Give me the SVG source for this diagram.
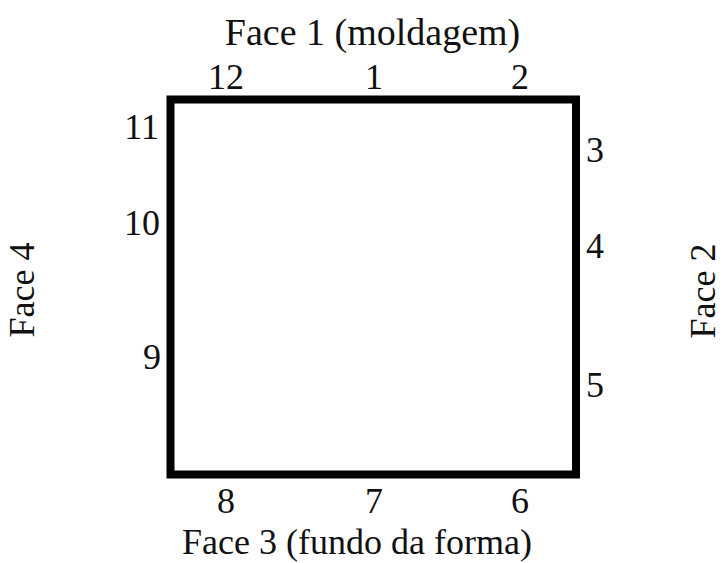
<svg xmlns="http://www.w3.org/2000/svg" width="726" height="563" viewBox="0 0 726 563">
<style>
text { font-family: "Liberation Serif", "Times New Roman", serif; font-size: 36px; fill: #111; }
.m { text-anchor: middle; }
.e { text-anchor: end; }
.box { fill: none; stroke: #000; stroke-width: 8; }
</style>
<rect width="726" height="563" fill="#fff"/>
<g id="section">
<rect class="box" x="170.5" y="99.5" width="405.5" height="375"/>
</g>
<g id="face1">
<text class="m" x="372.5" y="45" style="font-size:38px">Face 1 (moldagem)</text>
<text class="m" x="226" y="89">12</text>
<text class="m" x="374" y="89">1</text>
<text class="m" x="520" y="89">2</text>
</g>
<g id="face2">
<text class="m" transform="translate(715,291) rotate(-90)">Face 2</text>
<text x="586" y="162">3</text>
<text x="586" y="258">4</text>
<text x="586" y="397">5</text>
</g>
<g id="face3">
<text class="m" x="357" y="554">Face 3 (fundo da forma)</text>
<text class="m" x="226" y="513">8</text>
<text class="m" x="374" y="513">7</text>
<text class="m" x="520" y="513">6</text>
</g>
<g id="face4">
<text class="m" transform="translate(34,290) rotate(-90)">Face 4</text>
<text class="e" x="159" y="139">11</text>
<text class="e" x="160" y="235">10</text>
<text class="e" x="161" y="369">9</text>
</g>
</svg>
